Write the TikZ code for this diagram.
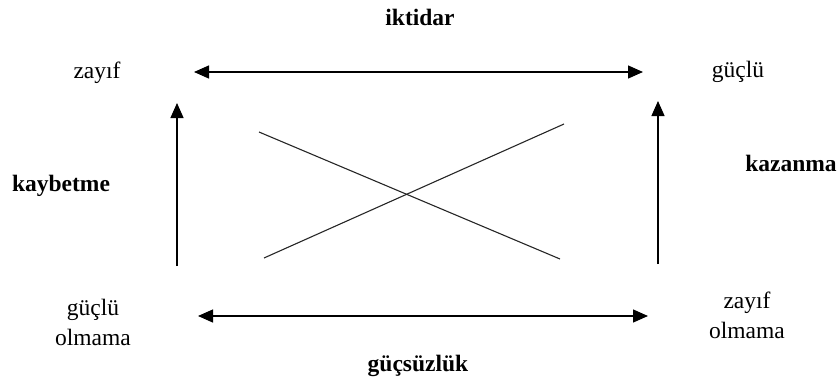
\documentclass[tikz,border=0pt]{standalone}
\usepackage{fontspec}
\setmainfont{Liberation Serif}
\usetikzlibrary{arrows.meta}
\begin{document}
\begin{tikzpicture}[x=1pt,y=-1pt,
  lbl/.style={font=\fontsize{23.5}{30}\selectfont, inner sep=0pt, anchor=base},
  blbl/.style={lbl, font=\fontsize{23.5}{30}\selectfont\bfseries},
  two/.style={font=\fontsize{23.5}{30}\selectfont, inner sep=0pt, align=center, anchor=center},
  conn/.style={line width=1.3pt, -{Triangle[length=15pt,width=13pt]}},
  dconn/.style={line width=1.3pt, {Triangle[length=15pt,width=13pt]}-{Triangle[length=15pt,width=13pt]}},
  cross/.style={line width=1.1pt, black!85}]
\useasboundingbox (0,0) rectangle (840,380);
% labels
\node[blbl] (iktidar) at (420,25) {iktidar};
\node[blbl] (gucsuzluk) at (418,371) {güçsüzlük};
\node[blbl] (kaybetme) at (61,191) {kaybetme};
\node[blbl] (kazanma) at (791,171) {kazanma};
\node[lbl] (zayif) at (97,78) {zayıf};
\node[lbl] (guclu) at (738,77) {güçlü};
\node[two] (gucluolmama) at (93,322) {güçlü\\olmama};
\node[two] (zayifolmama) at (747,315) {zayıf\\olmama};
% connector ends
\coordinate (tL) at (194,72);
\coordinate (tR) at (643,72);
\coordinate (bL) at (198,316);
\coordinate (bR) at (648,316);
\coordinate (lB) at (177,266);
\coordinate (lT) at (177,103);
\coordinate (rB) at (658,264);
\coordinate (rT) at (658,101);
\coordinate (x1a) at (259,132);
\coordinate (x1b) at (560,259);
\coordinate (x2a) at (264,258);
\coordinate (x2b) at (564,124);
% connectors
\draw[dconn] (tL) -- (tR);
\draw[dconn] (bL) -- (bR);
\draw[conn] (lB) -- (lT);
\draw[conn] (rB) -- (rT);
\draw[cross] (x1a) -- (x1b);
\draw[cross] (x2a) -- (x2b);
\end{tikzpicture}
\end{document}
